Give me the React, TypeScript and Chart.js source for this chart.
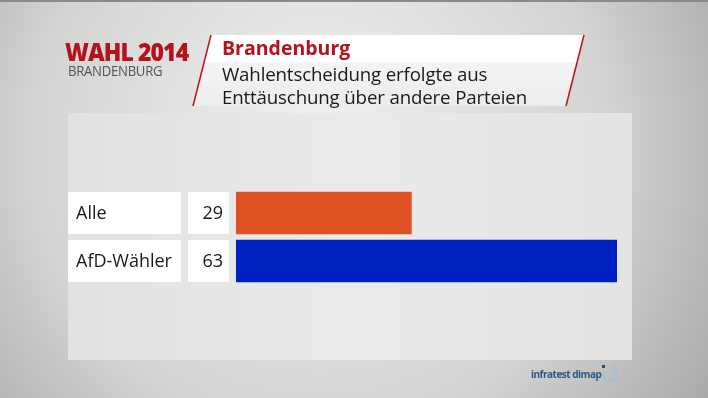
import React, { useEffect, useRef } from "react";
import { Chart, registerables } from "chart.js";
Chart.register(...registerables);

const categories = ["Alle", "AfD-Wähler"];
const values = [29, 63];
const barColors = ["#e05124", "#0021c2"];
const titleTop = "Brandenburg";
const titleLines = ["Wahlentscheidung erfolgte aus", "Enttäuschung über andere Parteien"];
const brandMain = "WAHL 2014";
const brandSub = "BRANDENBURG";
const sourceText = "infratest dimap";

const W = 708;
const H = 398;
const FONT = "'Open Sans', 'DejaVu Sans', sans-serif";

const backgroundPlugin = {
  id: "tvBackground",
  beforeDraw(chart: any) {
    const ctx = chart.ctx as CanvasRenderingContext2D;
    ctx.save();
    const g = ctx.createRadialGradient(W * 0.45, H * 0.3, 20, W * 0.45, H * 0.4, W * 0.65);
    g.addColorStop(0, "#eeeeee");
    g.addColorStop(0.6, "#d4d4d4");
    g.addColorStop(1, "#a9a9a9");
    ctx.fillStyle = g;
    ctx.fillRect(0, 0, W, H);
    ctx.fillStyle = "#8a8a8a";
    ctx.fillRect(0, 0, W, 2);

    ctx.fillStyle = "#ffffff";
    ctx.beginPath();
    ctx.moveTo(211, 35);
    ctx.lineTo(584, 35);
    ctx.lineTo(577, 62);
    ctx.lineTo(204, 62);
    ctx.closePath();
    ctx.fill();
    const hg = ctx.createLinearGradient(0, 62, 0, 106);
    hg.addColorStop(0, "#f4f4f4");
    hg.addColorStop(1, "#ececec");
    ctx.fillStyle = hg;
    ctx.beginPath();
    ctx.moveTo(204, 62);
    ctx.lineTo(577, 62);
    ctx.lineTo(566, 106);
    ctx.lineTo(193, 106);
    ctx.closePath();
    ctx.fill();
    ctx.strokeStyle = "#b8141c";
    ctx.lineWidth = 1.5;
    ctx.beginPath();
    ctx.moveTo(211, 35);
    ctx.lineTo(193, 106);
    ctx.stroke();
    ctx.beginPath();
    ctx.moveTo(584, 35);
    ctx.lineTo(566, 106);
    ctx.stroke();

    const pg = ctx.createLinearGradient(68, 0, 632, 0);
    pg.addColorStop(0, "#e2e2e2");
    pg.addColorStop(0.5, "#eaeaea");
    pg.addColorStop(1, "#e4e4e4");
    ctx.fillStyle = pg;
    ctx.fillRect(68, 113, 564, 247);

    ctx.strokeStyle = "#a9bfd3";
    ctx.lineWidth = 3;
    ctx.beginPath();
    ctx.arc(610, 374, 7, -1.3, 3.7);
    ctx.stroke();
    ctx.fillStyle = "#1f4f7a";
    ctx.fillRect(602, 365, 3, 3);
    ctx.restore();
  },
  afterDatasetsDraw(chart: any) {
    const ctx = chart.ctx as CanvasRenderingContext2D;
    const meta = chart.getDatasetMeta(0);
    ctx.save();
    meta.data.forEach((bar: any, i: number) => {
      const top = bar.y - bar.height / 2;
      const h = bar.height;
      ctx.fillStyle = "#ffffff";
      ctx.fillRect(68, top, 113, h);
      ctx.fillRect(188, top, 41, h);
      ctx.fillStyle = "#1a1a1a";
      ctx.font = `18px ${FONT}`;
      ctx.textBaseline = "middle";
      ctx.textAlign = "left";
      ctx.fillText(categories[i], 76, bar.y + 1);
      ctx.textAlign = "right";
      ctx.fillText(String(values[i]), 223, bar.y + 1);
    });
    ctx.restore();
  },
};

export default function App() {
  const ref = useRef<HTMLCanvasElement>(null);
  useEffect(() => {
    document.body.style.margin = "0";
    const chart = new Chart(ref.current!, {
      type: "bar",
      data: {
        labels: categories,
        datasets: [
          {
            data: values,
            backgroundColor: barColors,
            borderWidth: 0,
            barThickness: 42,
          },
        ],
      },
      options: {
        indexAxis: "y",
        responsive: false,
        animation: false,
        layout: { padding: { left: 236, right: W - 617, top: 189, bottom: H - 285 } },
        plugins: { legend: { display: false }, tooltip: { enabled: false } },
        scales: {
          x: { display: false, min: 0, max: 63 },
          y: { display: false },
        },
      },
      plugins: [backgroundPlugin],
    });
    return () => chart.destroy();
  }, []);

  const abs = (s: React.CSSProperties): React.CSSProperties => ({ position: "absolute", margin: 0, whiteSpace: "nowrap", ...s });

  return (
    <div style={{ position: "relative", width: W, height: H, overflow: "hidden" }}>
      <canvas ref={ref} width={W} height={H} style={{ display: "block" }} />
      <div style={abs({ left: 65, top: 36, fontFamily: FONT, fontWeight: 800, fontSize: 25, color: "#b5121b", letterSpacing: -1, lineHeight: "30px", transform: "scaleX(0.92)", transformOrigin: "left top" })}>{brandMain}</div>
      <div style={abs({ left: 68, top: 63, fontFamily: FONT, fontSize: 14, color: "#555", lineHeight: "16px", letterSpacing: -0.3, transform: "scaleX(0.94)", transformOrigin: "left top" })}>{brandSub}</div>
      <div style={abs({ left: 222, top: 34, fontFamily: FONT, fontWeight: 700, fontSize: 19.5, color: "#b5121b", lineHeight: "28px" })}>{titleTop}</div>
      <div style={abs({ left: 222, top: 62, fontFamily: FONT, fontSize: 18.7, color: "#1a1a1a", lineHeight: "23px", letterSpacing: -0.15 })}>
        {titleLines.map((l, i) => (
          <div key={i}>{l}</div>
        ))}
      </div>
      <div style={abs({ left: 531, top: 366, fontFamily: FONT, fontWeight: 700, fontSize: 10, color: "#2d5a86", letterSpacing: -0.5, lineHeight: "16px" })}>{sourceText}</div>
    </div>
  );
}
